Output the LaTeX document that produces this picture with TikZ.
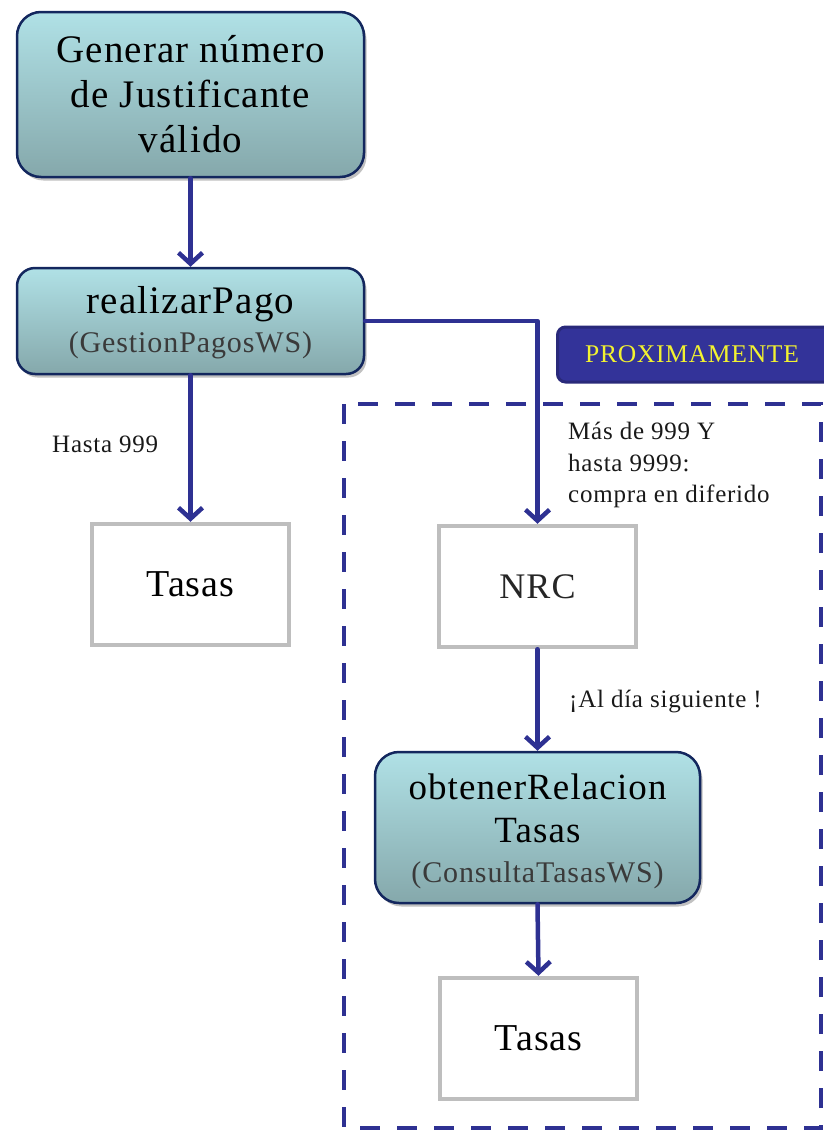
\documentclass[tikz,border=0pt]{standalone}
\usepackage{fontspec}
\setmainfont{Liberation Serif}[LetterSpace=3]
\usetikzlibrary{arrows.meta,shadows}
\definecolor{arrowc}{HTML}{2E3192}
\definecolor{boxborder}{HTML}{13275E}
\definecolor{topc}{HTML}{B0E1E6}
\definecolor{botc}{HTML}{85A8AB}
\definecolor{grayb}{HTML}{BEBEBE}
\definecolor{subgray}{HTML}{3A3A3A}
\definecolor{banfill}{HTML}{333399}
\definecolor{banborder}{HTML}{29297A}
\definecolor{yel}{HTML}{F2F230}
\tikzset{
  tealbox/.style={draw=boxborder, line width=2.5pt, rounded corners=24pt,
    top color=topc, bottom color=botc, align=center, inner sep=0pt,
    drop shadow={shadow xshift=2.5pt, shadow yshift=-3.5pt, opacity=0.35, fill=black!70}},
  graybox/.style={draw=grayb, line width=4.5pt, fill=white, inner sep=0pt,
    minimum width=197pt, minimum height=121pt},
  arr/.style={draw=arrowc, line width=4.5pt, line cap=round, line join=round,
    -{Straight Barb[length=11pt,width=24pt,line width=4.5pt]}},
  lbl/.style={inner sep=0pt, align=left, text=black!90, font=\fontsize{25}{31.5}\selectfont},
}
\begin{document}
\begin{tikzpicture}[x=1pt,y=-1pt]
\useasboundingbox (0,0) rectangle (823,1130);
% dashed region
\draw[arrowc, line width=4pt, dash pattern=on 20pt off 17pt] (344,404) rectangle (821,1128);
% banner
\node[draw=banborder, line width=3pt, fill=banfill, rounded corners=8pt,
  minimum width=285pt, minimum height=55pt, inner sep=0pt, anchor=west,
  text=yel, font=\fontsize{25.5}{30}\selectfont] (ban) at (556,354.5) {\hspace*{-16pt}PROXIMAMENTE};
% boxes
\node[tealbox, minimum width=347pt, minimum height=165pt, font=\fontsize{39}{45}\selectfont] (b1) at (190.5,94.5)
  {Generar número\\de Justificante\\válido};
\node[tealbox, minimum width=347pt, minimum height=106pt, rounded corners=18pt,
  font=\fontsize{39}{39}\selectfont] (b2) at (190.5,321)
  {\rule{0pt}{31pt}realizarPago\\{\fontsize{30}{30}\selectfont\color{subgray}(GestionPagosWS)}};
\node[graybox, font=\fontsize{38}{44}\selectfont] (t1) at (190.5,584.5) {Tasas};
\node[graybox, font=\fontsize{36}{44}\selectfont, text=black!85] (nrc) at (537.5,586.5) {NRC};
\node[tealbox, minimum width=325pt, minimum height=151pt, font=\fontsize{37}{43}\selectfont] (b3) at (537.5,827.5)
  {\rule{0pt}{34pt}obtenerRelacion\\Tasas\\[-3pt]{\fontsize{30}{30}\selectfont\color{subgray}(ConsultaTasasWS)}};
\node[graybox, font=\fontsize{38}{44}\selectfont] (t2) at (538.5,1038.5) {Tasas};
% labels
\node[lbl, anchor=base west] (l1) at (52,452) {Hasta 999};
\node[lbl, anchor=north west] (l2) at (568,422) {Más de 999 Y\\hasta 9999:\\compra en diferido};
\node[lbl, anchor=base west] (l3) at (569,707) {¡Al día siguiente !};
% connectors
\draw[arr] (b1) -- (b2);
\draw[arr] (b2) -- (t1);
\draw[arr] (b2.east) -| (nrc.north);
\draw[arr] (nrc) -- (b3);
\draw[arr] (b3.south) -- (t2.north);
\end{tikzpicture}
\end{document}
